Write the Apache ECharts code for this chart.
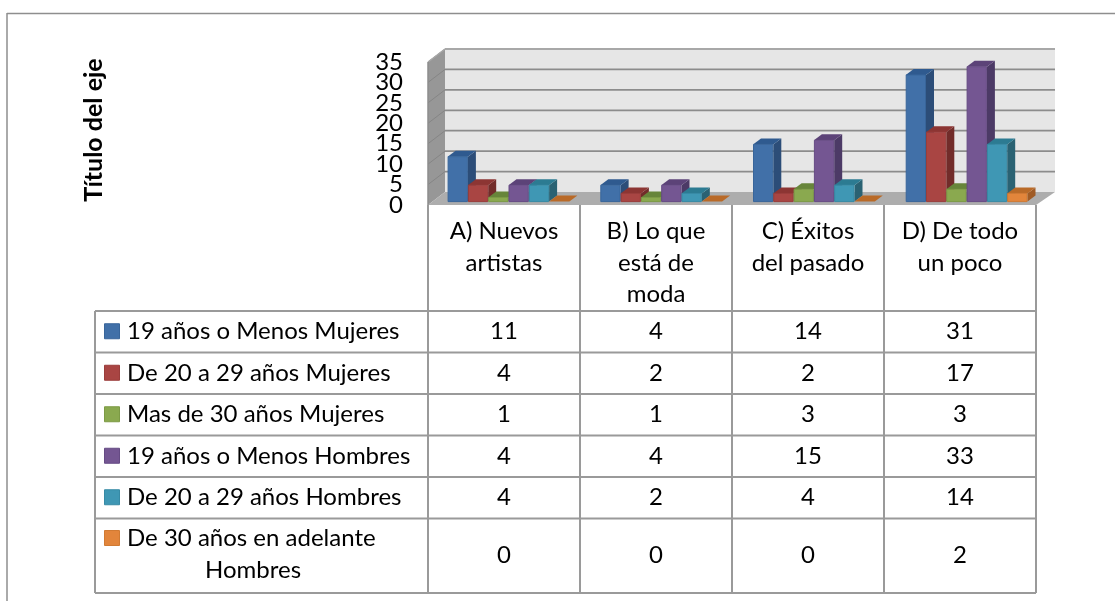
<!DOCTYPE html>
<html><head><meta charset="utf-8">
<style>html,body{margin:0;padding:0;background:#fff}#c{width:1115px;height:601px}</style>
<script src="https://cdn.jsdelivr.net/npm/echarts@6/dist/echarts.min.js"></script>
</head><body><div id="c"></div>
<script>
const categories = ['A) Nuevos\nartistas','B) Lo que\nestá de\nmoda','C) Éxitos\ndel pasado','D) De todo\nun poco'];
const seriesNames = ['19 años o Menos Mujeres','De 20 a 29 años Mujeres','Mas de 30 años Mujeres','19 años o Menos Hombres','De 20 a 29 años Hombres','De 30 años en adelante\nHombres'];
const s19Mujeres = [11,4,14,31];
const s20Mujeres = [4,2,2,17];
const s30Mujeres = [1,1,3,3];
const s19Hombres = [4,4,15,33];
const s20Hombres = [4,2,4,14];
const s30Hombres = [0,0,0,2];
const seriesValues = [s19Mujeres,s20Mujeres,s30Mujeres,s19Hombres,s20Hombres,s30Hombres];
const yTicks = [0,5,10,15,20,25,30,35];
const axisTitle = 'Título del eje';

// styles: front, top, side, edge
const faces = [
  ['#4170a8','#2f5a8f','#2c4d78','#38659a'],
  ['#a94543','#8c3533','#722c2a','#9a3d3b'],
  ['#8aa94f','#67853a','#5a7433','#7c9a45'],
  ['#745692','#5c4378','#4c3a66','#664b84'],
  ['#3f97b4','#2c7b92','#2a6273','#378aa5'],
  ['#e2853b','#b96a28','#a05b25','#d07a33']
];
const FONT = 'Lato, "Open Sans", sans-serif';
const TXT = '#000';
const LINE = '#9a9a9a';
const W = {dxL:17, dxR:19, dy:13};
const B = {w:20.3, lead:19.6, drift:0.7, dx:8, dy:6, lift:3.4};

function wallItem(params, api){
  const r = params.coordSys;
  const x0=r.x, x1=r.x+r.width, y0=r.y+r.height, y1=r.y;
  const kids=[];
  kids.push({type:'polygon',shape:{points:[[x0+W.dxL,y0-W.dy],[x1+W.dxR,y0-W.dy],[x1+W.dxR,y1-W.dy],[x0+W.dxL,y1-W.dy]]},style:{fill:'#e6e6e6'}});
  kids.push({type:'polygon',shape:{points:[[x0,y0],[x0+W.dxL,y0-W.dy],[x0+W.dxL,y1-W.dy],[x0,y1]]},style:{fill:'#979797'}});
  kids.push({type:'polygon',shape:{points:[[x0,y0],[x1,y0],[x1+W.dxR,y0-W.dy],[x0+W.dxL,y0-W.dy]]},style:{fill:'#adadad'}});
  yTicks.forEach(v=>{
    const y=api.coord([0,v])[1];
    kids.push({type:'text',style:{x:x0-25,y:y,text:String(v),fill:TXT,font:'24px '+FONT,textAlign:'right',textVerticalAlign:'middle'}});
    if(v===0) return;
    kids.push({type:'polyline',shape:{points:[[x0,y],[x0+W.dxL,y-W.dy]]},style:{stroke:'#858585',lineWidth:1,fill:null}});
    kids.push({type:'line',shape:{x1:x0+W.dxL,y1:y-W.dy,x2:x1+W.dxR,y2:y-W.dy},style:{stroke:v===35?'#a8a8a8':'#8c8c8c',lineWidth:1.8}});
  });
  kids.push({type:'polyline',shape:{points:[[x0,y1],[x0+W.dxL,y1-W.dy]]},style:{stroke:'#a8a8a8',lineWidth:1.5,fill:null}});
  kids.push({type:'line',shape:{x1:x0,y1:y0,x2:x0,y2:y1},style:{stroke:'#8c8c8c',lineWidth:1.5}});
  return {type:'group',children:kids};
}

function barRenderer(idx){
  return function(params, api){
    const cat=api.value(0), val=api.value(1);
    const band=api.size([1,0])[0];
    const c=api.coord([cat,val]);
    const b=api.coord([cat,0]);
    const x=c[0]-band/2+B.lead+cat*B.drift+idx*B.w, xr=x+B.w;
    const yt=c[1]-B.lift, yb=b[1]-B.lift;
    const f=faces[idx];
    const kids=[];
    if(val>0){
      kids.push({type:'polygon',shape:{points:[[xr,yt],[xr+B.dx,yt-B.dy],[xr+B.dx,yb-B.dy],[xr,yb]]},style:{fill:f[2]}});
    }
    kids.push({type:'polygon',shape:{points:[[x,yt],[xr,yt],[xr+B.dx,yt-B.dy],[x+B.dx,yt-B.dy]]},style:{fill:f[1]}});
    if(val>0){
      kids.push({type:'rect',shape:{x:x+0.5,y:yt,width:B.w-1,height:yb-yt},style:{fill:f[0],stroke:f[3],lineWidth:1}});
    }
    return {type:'group',children:kids};
  };
}

const T = {left:95, right:1036, catTop:205, cols:[428,580,732,884,1036],
  rows:[311,352.5,394,435.5,477,518.5,593], fs:24};
const gfx=[];
function ln(x1,y1,x2,y2,c,w){gfx.push({type:'line',silent:true,z:5,shape:{x1,y1,x2,y2},style:{stroke:c||LINE,lineWidth:w||2}});}
// outer chart border
ln(7,13.5,1115,13.5,'#8e8e8e',1.5); ln(7,13,7,601,'#8e8e8e',1.5);
// table grid
T.rows.forEach(y=>ln(T.left,y,T.right,y));
T.cols.forEach(x=>ln(x,T.catTop,x,T.rows[T.rows.length-1]));
ln(T.left,T.rows[0],T.left,T.rows[T.rows.length-1]);
seriesNames.forEach((n,i)=>{
  const top=T.rows[i], bot=T.rows[i+1];
  const two=n.indexOf('\n')>=0;
  const cy=two? top+20 : (top+bot)/2;
  gfx.push({type:'rect',z:6,shape:{x:104.5,y:cy-8,width:15,height:15},style:{fill:faces[i][0],stroke:faces[i][3],lineWidth:1}});
  if(two){
    const p=n.split('\n');
    gfx.push({type:'text',z:6,style:{x:127,y:cy,text:p[0],font:T.fs+'px '+FONT,fill:TXT,textVerticalAlign:'middle'}});
    gfx.push({type:'text',z:6,style:{x:253,y:cy+32,text:p[1],font:T.fs+'px '+FONT,fill:TXT,textAlign:'center',textVerticalAlign:'middle'}});
  } else {
    gfx.push({type:'text',z:6,style:{x:127,y:cy,text:n,font:T.fs+'px '+FONT,fill:TXT,textVerticalAlign:'middle'}});
  }
  seriesValues[i].forEach((v,j)=>{
    gfx.push({type:'text',z:6,style:{x:(T.cols[j]+T.cols[j+1])/2,y:(top+bot)/2,text:String(v),font:T.fs+'px '+FONT,fill:TXT,textAlign:'center',textVerticalAlign:'middle'}});
  });
});

const chart=echarts.init(document.getElementById('c'),null,{renderer:'canvas',width:1115,height:601});
chart.setOption({
  animation:false,
  backgroundColor:'#fff',
  grid:{left:428,right:79,top:62,bottom:396,containLabel:false},
  xAxis:{type:'category',data:categories,axisLine:{show:false},axisTick:{show:false},splitLine:{show:false},
    axisLabel:{margin:11,fontFamily:FONT,fontSize:24,color:TXT,lineHeight:31.5,verticalAlign:'top',interval:0,align:'center'}},
  yAxis:{type:'value',min:0,max:35,interval:5,axisLine:{show:false},axisTick:{show:false},splitLine:{show:false},
    name:axisTitle,nameLocation:'middle',nameGap:322,nameRotate:90,nameMoveOverlap:false,
    nameTextStyle:{fontFamily:FONT,fontSize:25,fontWeight:'bold',color:'#000',padding:[0,0,0,7]},
    axisLabel:{show:false}},
  graphic:gfx,
  series:[
    {type:'custom',name:'walls',silent:true,z:1,clip:false,renderItem:wallItem,data:[[0,0]],encode:{x:0,y:1}}
  ].concat(seriesNames.map((n,i)=>({
    type:'custom',name:n.replace('\n',' '),z:2+i,clip:false,renderItem:barRenderer(i),
    data:seriesValues[i].map((v,j)=>[j,v]),encode:{x:0,y:1}
  })))
});
</script></body></html>
